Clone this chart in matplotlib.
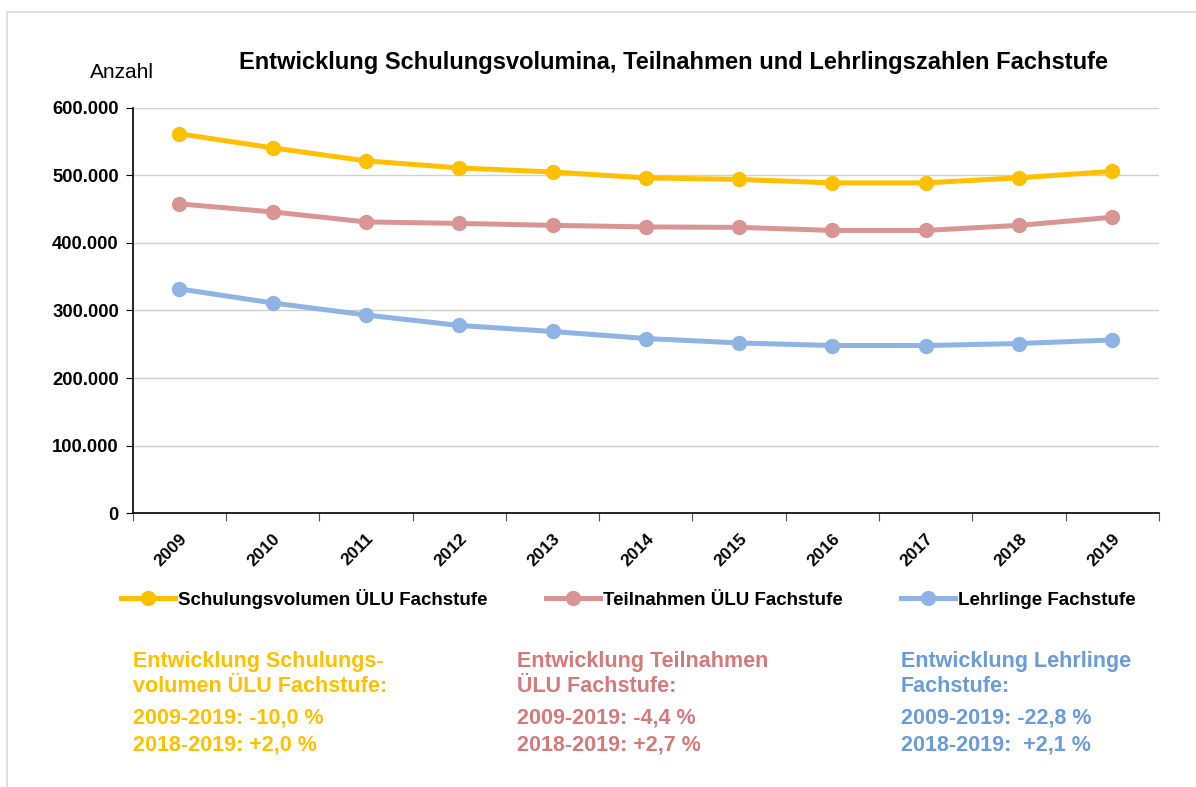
import matplotlib
matplotlib.use("Agg")
import matplotlib.pyplot as plt
from matplotlib.patches import Rectangle
from matplotlib.ticker import FuncFormatter

plt.rcParams['font.family'] = ['Liberation Sans', 'DejaVu Sans']

# --- Daten ---
jahre = ["2009", "2010", "2011", "2012", "2013", "2014", "2015", "2016", "2017", "2018", "2019"]
schulungsvolumen = [561500, 540700, 521500, 511000, 505000, 496300, 494000, 488900, 488900, 496300, 506000]
teilnahmen = [457800, 445900, 431100, 428900, 426000, 423700, 423000, 418500, 418500, 426000, 438000]
lehrlinge = [331900, 311100, 293300, 277800, 268900, 258500, 251900, 248100, 248100, 251100, 256300]

namen = ["Schulungsvolumen ÜLU Fachstufe", "Teilnahmen ÜLU Fachstufe", "Lehrlinge Fachstufe"]
farben = ["#FFC000", "#D99594", "#8EB4E3"]
textfarben = ["#FFC000", "#D47A7A", "#6A9BDA"]

info_titel = ["Entwicklung Schulungs-\nvolumen ÜLU Fachstufe:",
              "Entwicklung Teilnahmen\nÜLU Fachstufe:",
              "Entwicklung Lehrlinge\nFachstufe:"]
info_werte = ["2009-2019: -10,0 %\n2018-2019: +2,0 %",
              "2009-2019: -4,4 %\n2018-2019: +2,7 %",
              "2009-2019: -22,8 %\n2018-2019:  +2,1 %"]

fig = plt.figure(figsize=(11.96, 7.87), dpi=100)
fig.patches.append(Rectangle((0.006, -0.01), 1.0, 0.995, transform=fig.transFigure,
                             fill=False, edgecolor="#D9D9D9", linewidth=1.2))
ax = fig.add_axes([0.111, 0.348, 0.858, 0.515])

x = list(range(len(jahre)))
for werte, name, farbe in zip([schulungsvolumen, teilnahmen, lehrlinge], namen, farben):
    ax.plot(x, werte, color=farbe, lw=3.6, marker="o", ms=10, label=name, solid_joinstyle="round")

ax.set_xlim(-0.5, len(jahre) - 0.5)
ax.set_ylim(0, 600000)
ax.set_yticks(range(0, 600001, 100000))
ax.yaxis.set_major_formatter(FuncFormatter(lambda v, p: "0" if v == 0 else f"{int(v):,}".replace(",", ".")))
ax.grid(axis="y", color="#D0D0D0", lw=1)
ax.set_axisbelow(True)
for s in ["top", "right"]:
    ax.spines[s].set_visible(False)
ax.spines["left"].set_linewidth(1.2)
ax.spines["bottom"].set_linewidth(1.2)

# Kategorieachse: Striche zwischen den Jahren, Beschriftung in der Mitte
ax.set_xticks([i - 0.5 for i in range(len(jahre) + 1)])
ax.set_xticklabels([])
ax.set_xticks(x, minor=True)
ax.set_xticklabels(jahre, minor=True, rotation=45, ha="right", rotation_mode="anchor",
                   fontsize=12.5, fontweight="bold")
ax.tick_params(axis="x", which="minor", length=0, pad=13)
ax.tick_params(axis="x", which="major", length=6, color="#555555")
ax.tick_params(axis="y", length=5, labelsize=13.3, pad=5)
for lbl in ax.get_yticklabels():
    lbl.set_fontweight("bold")

fig.text(0.075, 0.908, "Anzahl", fontsize=15, ha="left", va="center")
fig.text(0.5635, 0.921, "Entwicklung Schulungsvolumina, Teilnahmen und Lehrlingszahlen Fachstufe",
         fontsize=17, fontweight="bold", ha="center", va="center")

fig.legend(loc="center", bbox_to_anchor=(0.5255, 0.239), ncol=3, frameon=False,
           prop={"weight": "bold", "size": 13.5}, handlelength=2.9, handletextpad=0.16,
           columnspacing=3.1)

spalten_x = [0.111, 0.432, 0.753]
for sx, titel, werte, farbe in zip(spalten_x, info_titel, info_werte, textfarben):
    fig.text(sx, 0.1436, titel, fontsize=15.5, fontweight="bold", color=farbe,
             ha="left", va="center", linespacing=1.24)
    fig.text(sx, 0.0705, werte, fontsize=15.5, fontweight="bold", color=farbe,
             ha="left", va="center", linespacing=1.39)

fig.savefig("out.png", dpi=100, facecolor="white")
